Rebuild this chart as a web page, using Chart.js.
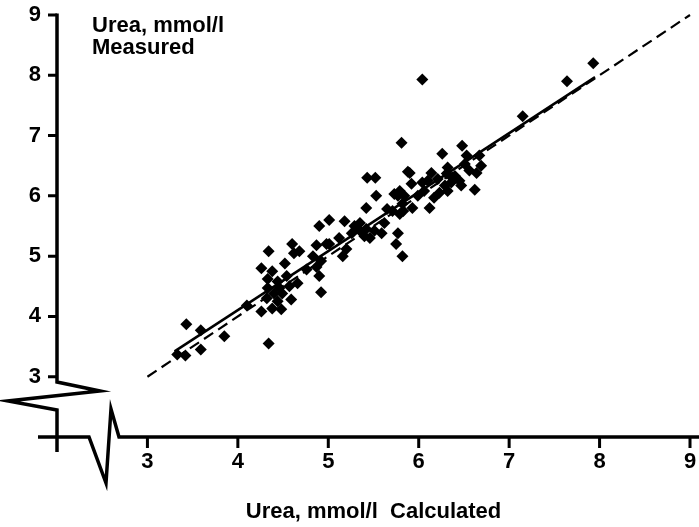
<!DOCTYPE html>
<html>
<head>
<meta charset="utf-8">
<script src="https://cdn.jsdelivr.net/npm/chart.js@4.4.0/dist/chart.umd.min.js"></script>
<style>
  html, body { margin: 0; padding: 0; background: #fff; }
  #wrap { width: 699px; height: 527px; }
</style>
</head>
<body>
<div id="wrap"><canvas id="chart" width="699" height="527"></canvas></div>
<script>
// urea, mmol/l: calculated (x) vs measured (y)
const calculated = [
  3.33, 3.42, 3.43, 3.59, 3.59, 3.85, 4.10, 4.26, 4.34, 4.33,
  4.32, 4.38, 4.48, 4.44, 4.59, 4.46, 4.57, 4.33, 4.44, 4.54,
  4.38, 4.26, 4.52, 4.34, 4.60, 4.62, 4.87, 4.98, 4.90, 4.76,
  4.87, 4.92, 4.90, 4.92, 4.83, 4.68, 5.01, 5.18, 5.29, 5.35,
  5.42, 5.46, 5.59, 5.77, 5.75, 5.82, 5.01, 5.12, 5.20, 5.16,
  5.53, 5.42, 5.43, 5.52, 5.81, 6.04, 5.88, 5.65, 5.77, 5.82,
  5.71, 5.79, 5.73, 5.79, 5.84, 5.93, 5.90, 5.92, 6.04, 6.14,
  6.12, 6.17, 6.23, 6.32, 6.21, 6.31, 6.36, 6.45, 6.26, 6.48,
  6.67, 6.69, 6.64, 6.62, 5.62, 6.51, 6.47, 6.37, 6.10, 6.32,
  6.53, 7.15, 7.64, 7.93, 4.49, 4.40, 4.66, 5.83, 5.99, 6.06,
  6.40, 6.56, 6.29, 5.35, 5.40, 5.26, 5.51
];
const measured = [
  3.37, 3.35, 3.87, 3.77, 3.45, 3.67, 4.18, 4.08, 3.55, 4.47,
  4.30, 4.13, 4.12, 4.25, 4.28, 4.47, 4.50, 4.62, 4.58, 4.67,
  4.75, 4.80, 4.88, 5.08, 5.20, 5.05, 5.18, 5.20, 5.50, 4.78,
  4.82, 4.92, 4.67, 4.40, 5.00, 5.08, 5.60, 5.58, 5.50, 5.42,
  5.45, 5.30, 5.38, 5.38, 5.20, 5.00, 5.20, 5.30, 5.12, 5.00,
  6.00, 5.80, 6.30, 6.30, 6.88, 7.93, 6.40, 5.78, 6.00, 5.87,
  5.75, 5.70, 6.03, 6.08, 6.00, 5.80, 6.38, 6.20, 6.22, 6.38,
  5.80, 5.97, 6.05, 6.08, 6.28, 6.37, 6.22, 6.25, 6.70, 6.83,
  6.67, 6.50, 6.38, 6.10, 5.55, 6.53, 6.17, 6.30, 6.25, 6.47,
  6.67, 7.32, 7.90, 8.20, 4.38, 4.38, 4.55, 5.75, 6.00, 6.08,
  6.33, 6.42, 6.17, 5.55, 5.33, 5.38, 5.42
];

// regression line (solid) and line of identity (dashed)
const fitX = [3.3, 7.95];
const fitY = [3.42, 7.97];
const identityX = [3, 9];
const identityY = [3, 9];

const axisMin = 2;
const axisMax = 9;
const xTicks = [3, 4, 5, 6, 7, 8, 9];
const yTicks = [3, 4, 5, 6, 7, 8, 9];
const xTitle = 'Urea, mmol/l  Calculated';
const yTitle = ['Urea, mmol/l', 'Measured'];

const font = '"Liberation Sans", Arial, Helvetica, sans-serif';

Chart.defaults.font.family = font;
Chart.defaults.font.size = 22;
Chart.defaults.font.weight = 'bold';
Chart.defaults.color = '#000';

const toPoints = (xs, ys) => xs.map((v, i) => ({ x: v, y: ys[i] }));

// axes with the break marks, drawn on the scales
const brokenAxes = {
  id: 'brokenAxes',
  afterDraw(chart) {
    const { ctx, scales: { x, y } } = chart;
    const x0 = x.getPixelForValue(axisMin);
    const y0 = y.getPixelForValue(axisMin);
    ctx.save();
    ctx.strokeStyle = '#000';
    ctx.lineWidth = 3.5;
    ctx.lineJoin = 'miter';
    ctx.lineCap = 'butt';
    ctx.beginPath();
    ctx.moveTo(x0, y.getPixelForValue(axisMax) - 1.5);
    ctx.lineTo(x0, y0 - 55);
    ctx.lineTo(x0 + 43, y0 - 46);
    ctx.lineTo(x0 - 49, y0 - 36);
    ctx.lineTo(x0, y0 - 27);
    ctx.lineTo(x0, y0 + 15);
    ctx.moveTo(x0 - 19, y0);
    ctx.lineTo(x0 + 32, y0);
    ctx.lineTo(x0 + 49, y0 + 46);
    ctx.lineTo(x0 + 54, y0 - 28);
    ctx.lineTo(x0 + 62, y0);
    ctx.lineTo(chart.width, y0);
    ctx.stroke();

    ctx.lineWidth = 3;
    ctx.beginPath();
    yTicks.forEach(v => {
      const p = y.getPixelForValue(v);
      ctx.moveTo(x0 - 9, p);
      ctx.lineTo(x0, p);
    });
    xTicks.forEach(v => {
      const p = x.getPixelForValue(v);
      ctx.moveTo(p, y0);
      ctx.lineTo(p, y0 + 11);
    });
    ctx.stroke();

    ctx.fillStyle = '#000';
    ctx.font = 'bold 22px ' + font;
    ctx.textAlign = 'left';
    ctx.textBaseline = 'alphabetic';
    ctx.fillText(yTitle[0], x0 + 35, 32);
    ctx.fillText(yTitle[1], x0 + 35, 54);
    ctx.restore();
  }
};

new Chart(document.getElementById('chart'), {
  type: 'scatter',
  data: {
    datasets: [
      {
        data: toPoints(calculated, measured),
        pointStyle: 'rectRot',
        pointRadius: 6,
        backgroundColor: '#000',
        borderColor: '#000',
        borderWidth: 0
      },
      {
        data: toPoints(fitX, fitY),
        showLine: true,
        pointRadius: 0,
        borderColor: '#000',
        borderWidth: 2.5
      },
      {
        data: toPoints(identityX, identityY),
        showLine: true,
        pointRadius: 0,
        borderColor: '#000',
        borderWidth: 2.2,
        borderDash: [11, 6],
        clip: false
      }
    ]
  },
  options: {
    responsive: false,
    animation: false,
    devicePixelRatio: 1,
    layout: { padding: { top: 15, right: 9, left: 0, bottom: 0 } },
    plugins: { legend: { display: false }, tooltip: { enabled: false } },
    scales: {
      x: {
        type: 'linear',
        min: axisMin,
        max: axisMax,
        grid: { display: false, drawTicks: false },
        border: { display: false },
        ticks: {
          stepSize: 1,
          autoSkip: false,
          padding: 12,
          maxRotation: 0,
          callback: v => xTicks.includes(v) ? String(v) : ''
        },
        title: { display: true, text: xTitle, padding: { top: 0, bottom: 2 } },
        afterFit: s => {
          s.height = 90;
          s.paddingLeft = 0;
          s.paddingRight = 0;
        }
      },
      y: {
        type: 'linear',
        min: axisMin,
        max: axisMax,
        grid: { display: false, drawTicks: false },
        border: { display: false },
        ticks: {
          stepSize: 1,
          autoSkip: false,
          padding: 16,
          callback: v => yTicks.includes(v) ? String(v) : ''
        },
        afterFit: s => {
          s.width = 57;
          s.paddingTop = 0;
          s.paddingBottom = 0;
        }
      }
    }
  },
  plugins: [brokenAxes]
});
</script>
</body>
</html>
